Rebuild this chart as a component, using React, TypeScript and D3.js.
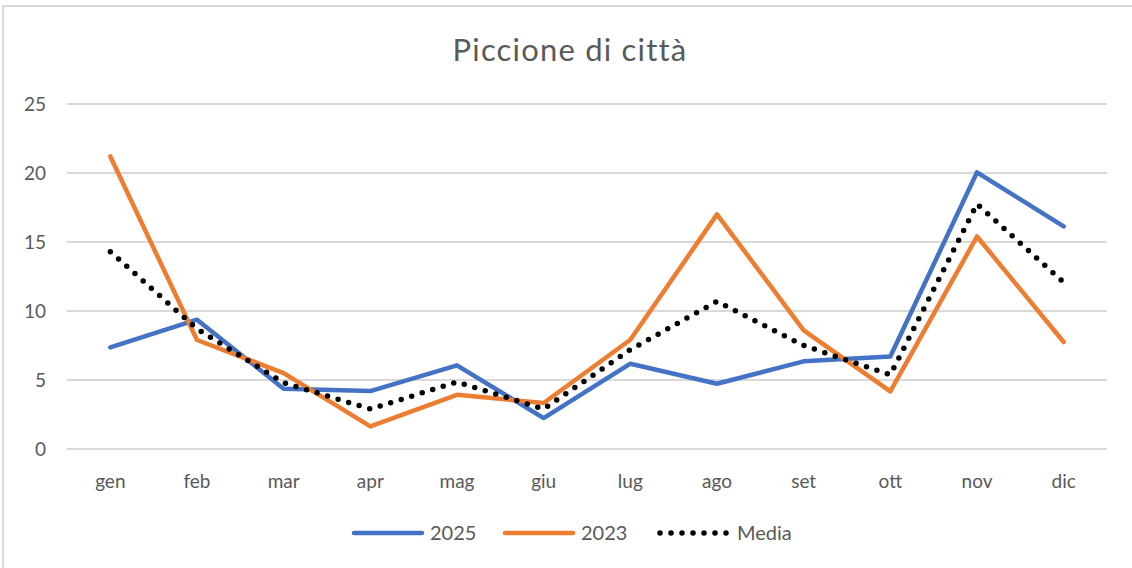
import React, { useEffect, useRef } from "react";
import * as d3 from "d3";

const months = ["gen", "feb", "mar", "apr", "mag", "giu", "lug", "ago", "set", "ott", "nov", "dic"];
const values2025 = [7.36, 9.37, 4.37, 4.2, 6.06, 2.24, 6.18, 4.73, 6.35, 6.7, 20.05, 16.13];
const values2023 = [21.2, 7.9, 5.5, 1.64, 3.93, 3.33, 7.92, 17.0, 8.6, 4.17, 15.4, 7.75];
const valuesMedia = [14.3, 8.7, 4.8, 2.9, 4.85, 2.9, 7.2, 10.7, 7.5, 5.38, 17.75, 12.07];
const yTicks = [0, 5, 10, 15, 20, 25];

const series = [
  { name: "2025", values: values2025, color: "#4472C4", dotted: false },
  { name: "2023", values: values2023, color: "#ED7D31", dotted: false },
  { name: "Media", values: valuesMedia, color: "#000000", dotted: true },
];

const W = 1132;
const H = 568;
const font = "Lato, 'Open Sans', sans-serif";
const textColor = "#595959";

export default function App() {
  const ref = useRef<SVGSVGElement>(null);

  useEffect(() => {
    const svg = d3.select(ref.current);
    svg.selectAll("*").remove();

    const margin = { left: 67, right: 25, top: 104, bottom: 119 };
    const x = d3
      .scaleBand()
      .domain(months)
      .range([margin.left, W - margin.right]);
    const y = d3
      .scaleLinear()
      .domain([0, 25])
      .range([H - margin.bottom, margin.top]);

    // chart frame
    svg
      .append("rect")
      .attr("x", 3)
      .attr("y", 6)
      .attr("width", W + 10)
      .attr("height", H + 10)
      .attr("fill", "white")
      .attr("stroke", "#d9d9d9")
      .attr("stroke-width", 2);

    svg
      .append("text")
      .attr("x", 570)
      .attr("y", 61)
      .attr("text-anchor", "middle")
      .attr("font-family", font)
      .attr("font-size", 31)
      .attr("letter-spacing", 1.2)
      .attr("fill", textColor)
      .text("Piccione di città");

    // gridlines
    svg
      .append("g")
      .selectAll("line")
      .data(yTicks)
      .join("line")
      .attr("x1", margin.left)
      .attr("x2", W - margin.right)
      .attr("y1", (d) => y(d))
      .attr("y2", (d) => y(d))
      .attr("stroke", "#d9d9d9")
      .attr("stroke-width", 2);

    svg
      .append("g")
      .selectAll("text")
      .data(yTicks)
      .join("text")
      .attr("x", 46)
      .attr("y", (d) => y(d))
      .attr("dy", "0.35em")
      .attr("text-anchor", "end")
      .attr("font-family", font)
      .attr("font-size", 19)
      .attr("fill", textColor)
      .text((d) => d);

    svg
      .append("g")
      .selectAll("text")
      .data(months)
      .join("text")
      .attr("x", (d) => (x(d) as number) + x.bandwidth() / 2)
      .attr("y", 488)
      .attr("text-anchor", "middle")
      .attr("font-family", font)
      .attr("font-size", 19)
      .attr("fill", textColor)
      .text((d) => d);

    const lineGen = d3
      .line<number>()
      .x((_, i) => (x(months[i]) as number) + x.bandwidth() / 2)
      .y((d) => y(d));

    series.forEach((s) => {
      const p = svg
        .append("path")
        .datum(s.values)
        .attr("fill", "none")
        .attr("stroke", s.color)
        .attr("d", lineGen);
      if (s.dotted) {
        p.attr("stroke-width", 5.5)
          .attr("stroke-dasharray", "0 11")
          .attr("stroke-linecap", "round");
      } else {
        p.attr("stroke-width", 4.5)
          .attr("stroke-linejoin", "round")
          .attr("stroke-linecap", "round");
      }
    });

    // legend
    const legendX = [354, 505, 660];
    const legendY = 533;
    series.forEach((s, i) => {
      const g = svg.append("g");
      const lx = legendX[i];
      const l = g
        .append("line")
        .attr("x1", lx)
        .attr("x2", lx + 68)
        .attr("y1", legendY)
        .attr("y2", legendY)
        .attr("stroke", s.color);
      if (s.dotted) {
        l.attr("stroke-width", 5.5)
          .attr("stroke-dasharray", "0 11")
          .attr("stroke-linecap", "round");
      } else {
        l.attr("stroke-width", 4.5).attr("stroke-linecap", "round");
      }
      g.append("text")
        .attr("x", s.dotted ? lx + 77 : lx + 76)
        .attr("y", legendY)
        .attr("dy", "0.35em")
        .attr("font-family", font)
        .attr("font-size", 20)
        .attr("fill", textColor)
        .text(s.name);
    });
  }, []);

  return (
    <div style={{ position: "absolute", left: 0, top: 0 }}>
      <svg ref={ref} width={W} height={H} style={{ display: "block" }} />
    </div>
  );
}
